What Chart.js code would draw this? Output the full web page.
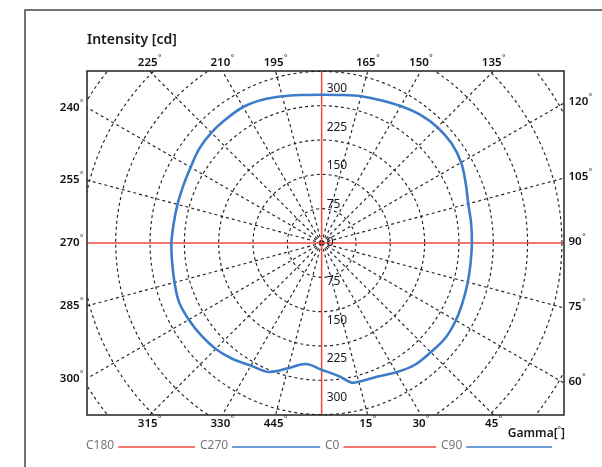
<!DOCTYPE html>
<html><head><meta charset="utf-8">
<style>html,body{margin:0;padding:0;background:#fff;overflow:hidden}canvas{display:block}</style>
<script src="https://cdn.jsdelivr.net/npm/chart.js@4/dist/chart.umd.min.js"></script>
</head><body>
<canvas id="c" width="602" height="467"></canvas>
<script>
// ---- data ----
const gammaAngles = [0, 7.5, 12, 15, 22.5, 30, 37.5, 45, 52.5, 60, 67.5, 75, 82.5, 90, 97.5, 105, 112.5, 120, 127.5, 135, 142.5, 150, 157.5, 165, 172.5, 180, 187.5, 195, 202.5, 210, 217.5, 225, 232.5, 240, 247.5, 255, 262.5, 270, 277.5, 285, 292.5, 300, 307.5, 315, 322.5, 330, 337.5, 345, 352.5, 360];
const intensityCd = [246, 261, 277, 279, 281, 290, 298, 300, 303, 301, 297, 294, 292, 292, 293, 295, 303, 313, 318, 318, 314, 307, 300, 295, 290, 288, 290, 295, 301, 305, 304, 303, 300, 294, 291, 290, 290, 292, 293, 296, 300, 298, 295, 291, 284, 275, 271, 252, 237, 246];
const radialTicks = [0, 75, 150, 225, 300];
const angleTickValues = [15, 30, 45, 60, 75, 90, 105, 120, 135, 150, 165, 195, 210, 225, 240, 255, 270, 285, 300, 315, 330, 345];
const angleTickLabels = ['15', '30', '45', '60', '75', '90', '105', '120', '135', '150', '165', '195', '210', '225', '240', '255', '270', '285', '300', '315', '330', '445'];
const legendLabels = ['C180', 'C270', 'C0', 'C90'];
const legendColors = ['#f0473c', '#3d7cc9', '#f0473c', '#3d7cc9'];
const ringStep = 66.7;
const xRange = [-456, 471];
const yRange = [-334, 334];
const titleText = 'Intensity [cd]';
const gammaTitle = 'Gamma[';
const gammaTitleEnd = ']';

const RED = '#f0473c', BLUE = '#3d7cc9';
const rad = d => d * Math.PI / 180;
const curvePts = gammaAngles.map((g, i) => ({x: intensityCd[i] * Math.sin(rad(g)), y: -intensityCd[i] * Math.cos(rad(g))}));

const FONT = '"Noto Sans", "DejaVu Sans", sans-serif';

function degText(ctx, txt, x, y, align) {
  ctx.font = '600 11.5px ' + FONT;
  const w1 = ctx.measureText(txt).width;
  ctx.font = '8px ' + FONT;
  const w2 = ctx.measureText('°').width;
  const tot = w1 + w2 + 0.5;
  let left = align === 'center' ? x - tot / 2 : align === 'right' ? x - tot : x;
  ctx.textAlign = 'left'; ctx.textBaseline = 'middle';
  ctx.font = '600 11.5px ' + FONT; ctx.fillText(txt, left, y);
  ctx.font = '8px ' + FONT; ctx.fillText('°', left + w1 + 0.5, y - 4);
}

const polarPlugin = {
  id: 'polar',
  beforeDatasetsDraw(chart) {
    const {ctx, chartArea: a, scales: {x, y}} = chart;
    const cx = x.getPixelForValue(0), cy = y.getPixelForValue(0);
    const ppu = (x.getPixelForValue(100) - cx) / 100;
    const maxD = Math.hypot(Math.max(cx - a.left, a.right - cx), Math.max(cy - a.top, a.bottom - cy));
    ctx.save();
    ctx.beginPath(); ctx.rect(a.left, a.top, a.right - a.left, a.bottom - a.top); ctx.clip();
    ctx.setLineDash([3, 3]); ctx.strokeStyle = '#222'; ctx.lineWidth = 1.15;
    for (let v = ringStep; v * ppu < maxD; v += ringStep) {
      ctx.beginPath(); ctx.arc(cx, cy, v * ppu, 0, Math.PI * 2); ctx.stroke();
    }
    for (let g = 0; g < 360; g += 15) {
      if (g % 90 === 0) continue;
      ctx.beginPath(); ctx.moveTo(cx, cy);
      ctx.lineTo(cx + maxD * Math.sin(rad(g)), cy + maxD * Math.cos(rad(g))); ctx.stroke();
    }
    ctx.setLineDash([]);
    ctx.strokeStyle = RED; ctx.lineWidth = 1.5;
    ctx.beginPath(); ctx.moveTo(a.left, cy); ctx.lineTo(a.right, cy);
    ctx.moveTo(cx, a.top); ctx.lineTo(cx, a.bottom); ctx.stroke();
    ctx.restore();
  },
  afterDatasetsDraw(chart) {
    const {ctx, chartArea: a, scales: {x, y}} = chart;
    const cx = x.getPixelForValue(0), cy = y.getPixelForValue(0);
    ctx.save();
    // plot border
    ctx.strokeStyle = '#222'; ctx.lineWidth = 1.5;
    ctx.strokeRect(a.left, a.top, a.right - a.left, a.bottom - a.top);
    // outer frame
    ctx.strokeStyle = '#444'; ctx.lineWidth = 1.5;
    ctx.beginPath(); ctx.moveTo(25, 467); ctx.lineTo(25, 10); ctx.lineTo(602, 10); ctx.stroke();
    // radial value labels
    ctx.fillStyle = '#1a1a1a'; ctx.font = '12px ' + FONT; ctx.textAlign = 'left'; ctx.textBaseline = 'middle';
    radialTicks.forEach(v => {
      ctx.fillText(String(v), cx + 5, y.getPixelForValue(v));
      if (v !== 0) ctx.fillText(String(v), cx + 5, y.getPixelForValue(-v));
    });
    // angle labels
    ctx.fillStyle = '#111';
    angleTickValues.forEach((g, i) => {
      const s = Math.sin(rad(g)), c = Math.cos(rad(g));
      const tx = Math.abs(s) < 1e-9 ? Infinity : (s > 0 ? (a.right - cx) / s : (a.left - cx) / s);
      const ty = Math.abs(c) < 1e-9 ? Infinity : (c > 0 ? (a.bottom - cy) / c : (a.top - cy) / c);
      const t = Math.min(tx, ty);
      const px = cx + t * s, py = cy + t * c;
      const lab = angleTickLabels[i];
      if (tx <= ty) {
        if (s > 0) degText(ctx, lab, a.right + 4.5, py - 1, 'left');
        else degText(ctx, lab, a.left - 3.5, py, 'right');
      } else {
        if (c < 0) degText(ctx, lab, px, a.top - 8, 'center');
        else degText(ctx, lab, px, a.bottom + 9, 'center');
      }
    });
    // titles
    ctx.fillStyle = '#1a1a1a'; ctx.textBaseline = 'middle';
    ctx.font = '600 14px ' + FONT; ctx.textAlign = 'left';
    ctx.fillText(titleText, a.left, 40);
    // Gamma[°] with raised degree sign
    ctx.font = '600 12px ' + FONT;
    const wEnd = ctx.measureText(gammaTitleEnd).width;
    ctx.font = '8px ' + FONT;
    const wDeg = ctx.measureText('°').width;
    ctx.font = '600 12px ' + FONT;
    const wG = ctx.measureText(gammaTitle).width;
    const gx = a.right + 1 - wEnd - wDeg - wG;
    ctx.textAlign = 'left';
    ctx.fillText(gammaTitle, gx, 434);
    ctx.fillText(gammaTitleEnd, gx + wG + wDeg, 434);
    ctx.font = '8px ' + FONT;
    ctx.fillText('°', gx + wG, 431);
    // legend
    const textX = [86, 200, 325, 441], endX = 552, ly = 446;
    ctx.font = '12px ' + FONT; ctx.textAlign = 'left';
    legendLabels.forEach((t, i) => {
      ctx.fillStyle = '#777';
      ctx.fillText(t, textX[i], ly);
      const w = ctx.measureText(t).width;
      const x1 = textX[i] + w + 4, x2 = i < legendLabels.length - 1 ? textX[i + 1] - 5 : endX;
      ctx.strokeStyle = legendColors[i]; ctx.lineWidth = 1.5;
      ctx.beginPath(); ctx.moveTo(x1, ly + 1); ctx.lineTo(x2, ly + 1); ctx.stroke();
    });
    ctx.restore();
  }
};

new Chart(document.getElementById('c'), {
  type: 'scatter',
  data: {datasets: [{
    label: 'Intensity', data: curvePts, showLine: true, borderColor: BLUE, borderWidth: 2.6,
    pointRadius: 0, tension: 0.35, fill: false
  }]},
  options: {
    responsive: false, animation: false, devicePixelRatio: 1,
    layout: {padding: {left: 87, right: 38, top: 71, bottom: 52}},
    plugins: {legend: {display: false}, title: {display: false}, tooltip: {enabled: false}},
    scales: {
      x: {type: 'linear', min: xRange[0], max: xRange[1], display: false},
      y: {type: 'linear', min: yRange[0], max: yRange[1], display: false}
    }
  },
  plugins: [polarPlugin]
});
</script>
</body></html>
